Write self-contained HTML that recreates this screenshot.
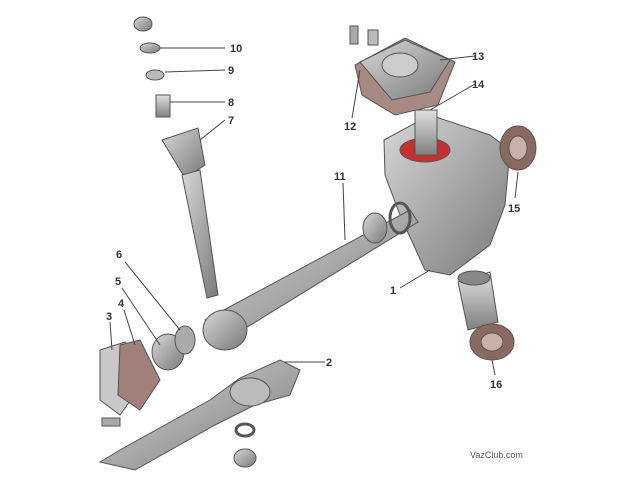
<!DOCTYPE html>
<html><head><style>
html,body{margin:0;padding:0;background:#fff;width:640px;height:480px;overflow:hidden}
text{font-family:"Liberation Sans",sans-serif;font-size:11px;font-weight:bold;fill:#333}
</style></head><body>
<svg width="640" height="480" viewBox="0 0 640 480" xmlns="http://www.w3.org/2000/svg">
<defs>
<linearGradient id="g" x1="0" y1="0" x2="1" y2="1"><stop offset="0" stop-color="#d8d8d8"/><stop offset="0.5" stop-color="#a8a8a8"/><stop offset="1" stop-color="#7a7a7a"/></linearGradient>
<linearGradient id="s" x1="0" y1="0" x2="0" y2="1"><stop offset="0" stop-color="#e0e0e0"/><stop offset="1" stop-color="#808080"/></linearGradient>
</defs>
<g stroke="#555" stroke-width="1">
<!-- top small parts -->
<ellipse cx="143" cy="24" rx="9" ry="7" fill="url(#g)"/>
<ellipse cx="150" cy="48" rx="10" ry="5" fill="url(#g)"/>
<ellipse cx="155" cy="75" rx="9" ry="5" fill="#bbb"/>
<rect x="156" y="95" width="14" height="22" fill="url(#s)"/>
<!-- part 7 shaft -->
<path d="M162,140 L198,128 L205,165 L185,178 Z" fill="url(#g)"/>
<path d="M182,175 L200,170 L218,295 L207,298 Z" fill="url(#g)"/>
<!-- housing -->
<path d="M384,140 L430,115 L490,135 L510,150 L505,205 L490,245 L450,275 L425,270 L400,215 L385,175 Z" fill="url(#g)"/>
<ellipse cx="425" cy="150" rx="25" ry="12" fill="#c43030"/>
<rect x="415" y="110" width="22" height="45" fill="url(#s)"/>
<!-- cover -->
<path d="M355,65 L405,38 L455,62 L438,105 L395,115 L362,95 Z" fill="#a88a85"/>
<path d="M360,62 L405,40 L450,60 L430,92 L392,100 Z" fill="url(#g)"/>
<ellipse cx="400" cy="65" rx="18" ry="12" fill="#ccc"/>
<rect x="350" y="26" width="8" height="18" fill="#aaa"/><rect x="368" y="30" width="10" height="15" fill="#bbb"/>
<!-- seal 15 -->
<ellipse cx="518" cy="148" rx="18" ry="22" fill="#8a6a60"/><ellipse cx="518" cy="148" rx="9" ry="12" fill="#c9b0a8"/>
<!-- bushing -->
<path d="M458,282 L490,272 L498,322 L468,330 Z" fill="url(#s)"/><ellipse cx="474" cy="278" rx="16" ry="7" fill="#888"/>
<!-- seal 16 -->
<ellipse cx="492" cy="342" rx="22" ry="18" fill="#8a6a60"/><ellipse cx="492" cy="342" rx="11" ry="9" fill="#c9b0a8"/>
<!-- main shaft -->
<path d="M205,320 L410,210 L418,222 L218,345 Z" fill="url(#g)"/>
<ellipse cx="225" cy="330" rx="22" ry="20" fill="url(#g)"/>
<ellipse cx="375" cy="228" rx="12" ry="15" fill="url(#g)"/>
<ellipse cx="400" cy="218" rx="10" ry="15" fill="none" stroke-width="3"/>
<!-- bearings 5,6 -->
<ellipse cx="168" cy="352" rx="16" ry="18" fill="url(#g)"/>
<ellipse cx="185" cy="340" rx="10" ry="14" fill="#aaa"/>
<!-- gaskets 3,4 -->
<path d="M100,350 L125,342 L145,380 L120,415 L100,400 Z" fill="#c8c8c8"/>
<path d="M120,345 L140,340 L160,380 L140,410 L118,395 Z" fill="#a08078"/>
<!-- pitman arm -->
<path d="M100,462 L120,450 L210,400 L240,378 L280,360 L300,370 L290,395 L255,405 L215,425 L135,470 Z" fill="url(#g)"/>
<ellipse cx="250" cy="392" rx="20" ry="14" fill="#bbb"/>
<rect x="102" y="418" width="18" height="8" fill="#aaa"/>
<ellipse cx="245" cy="430" rx="9" ry="6" fill="none" stroke-width="3"/>
<ellipse cx="245" cy="458" rx="11" ry="9" fill="url(#g)"/>
<!-- leader lines -->
<g fill="none" stroke="#444">
<path d="M160,48 L225,48"/><path d="M165,72 L225,70"/><path d="M170,102 L225,102"/><path d="M200,140 L225,120"/>
<path d="M440,60 L475,56"/><path d="M430,110 L475,84"/><path d="M360,70 L352,118"/>
<path d="M343,183 L345,240"/><path d="M518,172 L515,198"/><path d="M400,288 L430,270"/>
<path d="M125,262 L180,330"/><path d="M122,288 L160,345"/><path d="M124,310 L135,345"/><path d="M110,322 L112,350"/>
<path d="M285,362 L325,362"/><path d="M492,360 L495,375"/>
</g>
</g>
<text x="230" y="52">10</text><text x="228" y="74">9</text><text x="228" y="106">8</text><text x="228" y="124">7</text>
<text x="472" y="60">13</text><text x="472" y="88">14</text><text x="344" y="130">12</text>
<text x="334" y="180">11</text><text x="508" y="212">15</text><text x="390" y="294">1</text>
<text x="116" y="258">6</text><text x="115" y="285">5</text><text x="118" y="307">4</text><text x="106" y="320">3</text>
<text x="326" y="366">2</text><text x="490" y="388">16</text>
<text x="470" y="458" style="font-size:9px;font-weight:normal;fill:#555">VazClub.com</text>
</svg>
</body></html>
